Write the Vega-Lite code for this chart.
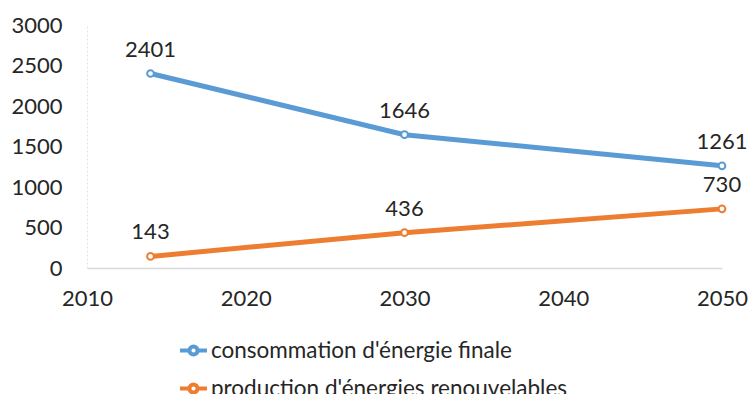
{
  "$schema": "https://vega.github.io/schema/vega-lite/v6.json",
  "width": 635,
  "height": 243,
  "autosize": "none",
  "padding": {"left": 87, "top": 25, "right": 28, "bottom": 126},
  "background": "white",
  "config": {
    "view": {"stroke": null},
    "font": "Lato",
    "text": {"font": "Lato"}
  },
  "data": {
    "values": [
      {"annee": 2014, "valeur": 2401, "serie": "consommation d'énergie finale"},
      {"annee": 2030, "valeur": 1646, "serie": "consommation d'énergie finale"},
      {"annee": 2050, "valeur": 1261, "serie": "consommation d'énergie finale"},
      {"annee": 2014, "valeur": 143, "serie": "production d'énergies renouvelables"},
      {"annee": 2030, "valeur": 436, "serie": "production d'énergies renouvelables"},
      {"annee": 2050, "valeur": 730, "serie": "production d'énergies renouvelables"}
    ]
  },
  "encoding": {
    "x": {
      "field": "annee",
      "type": "quantitative",
      "scale": {"domain": [2010, 2050], "nice": false, "zero": false},
      "axis": {
        "title": null,
        "values": [2010, 2020, 2030, 2040, 2050],
        "format": "d",
        "grid": false,
        "ticks": false,
        "domainColor": "#d9d9d9",
        "domainWidth": 1.5,
        "labelFontSize": 22,
        "labelColor": "#262626",
        "labelPadding": 20,
        "labelFlush": false,
        "labelOverlap": false
      }
    },
    "y": {
      "field": "valeur",
      "type": "quantitative",
      "scale": {"domain": [0, 3000], "nice": false},
      "axis": {
        "title": null,
        "values": [0, 500, 1000, 1500, 2000, 2500, 3000],
        "format": "d",
        "grid": false,
        "ticks": false,
        "domainColor": "#e3e3e3",
        "domainDash": [2, 2],
        "labelFontSize": 22,
        "labelColor": "#262626",
        "labelPadding": 25,
        "labelOverlap": false
      }
    },
    "color": {
      "field": "serie",
      "type": "nominal",
      "scale": {
        "domain": ["consommation d'énergie finale", "production d'énergies renouvelables"],
        "range": ["#5B9BD5", "#ED7D31"]
      },
      "legend": {
        "title": null,
        "orient": "none",
        "legendX": 91,
        "legendY": 310,
        "direction": "vertical",
        "labelFontSize": 22.5,
        "labelColor": "#262626",
        "labelLimit": 600,
        "labelOffset": 2,
        "rowPadding": 10,
        "symbolType": "M-1,0L-0.3,0M0.3,0L1,0M-0.3,0A0.3,0.3 0 1,1 0.3,0A0.3,0.3 0 1,1 -0.3,0",
        "symbolSize": 729,
        "symbolStrokeWidth": 4,
        "symbolFillColor": "white"
      }
    }
  },
  "layer": [
    {"mark": {"type": "line", "strokeWidth": 5}},
    {"mark": {"type": "point", "shape": "circle", "filled": false, "fill": "white", "fillOpacity": 1, "opacity": 1, "size": 45, "strokeWidth": 2}},
    {
      "mark": {"type": "text", "dy": -24, "fontSize": 22, "color": "#262626"},
      "encoding": {"text": {"field": "valeur", "type": "quantitative"}, "color": {"value": "#262626"}}
    }
  ]
}
